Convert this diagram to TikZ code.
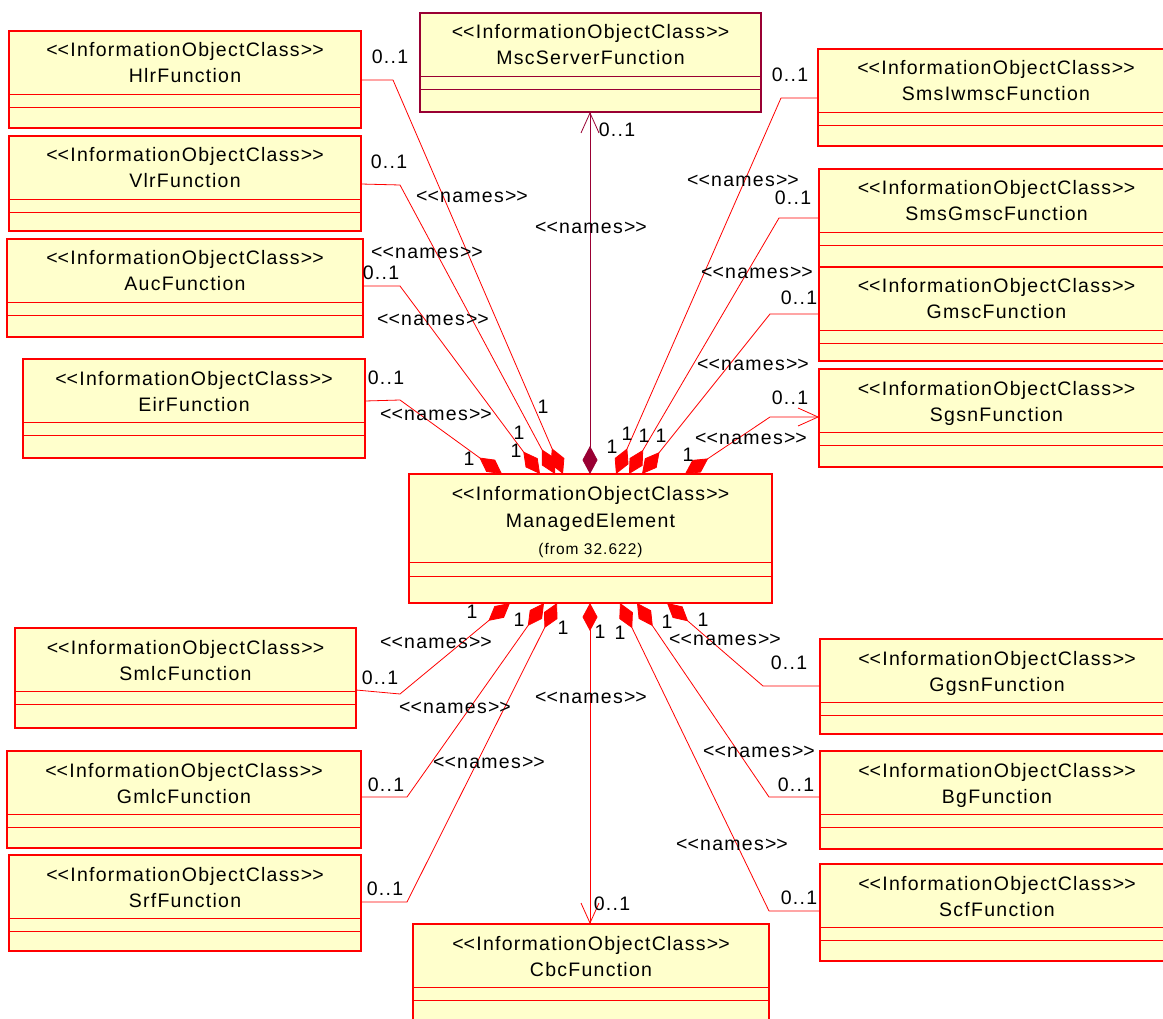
\documentclass[tikz,border=0pt]{standalone}
\usepackage{fontspec}
\newfontfamily\umlfont{Liberation Sans}[LetterSpace=6.5]
\usetikzlibrary{arrows.meta,calc}
\definecolor{boxfill}{HTML}{FFFFCC}
\definecolor{umlred}{HTML}{FF0000}
\definecolor{mscred}{HTML}{990033}
\newcommand\stLT{<\kern0pt<}
\newcommand\stGT{>\kern0pt>}
\newcommand\stereo{\stLT InformationObjectClass\stGT}
\newcommand\nameslab{\stLT names\stGT}
\tikzset{
  classbox/.style={draw=#1, fill=boxfill, line width=1.5pt, inner sep=0pt, outer sep=0pt},
  compline/.style={draw=#1, line width=0.9pt},
  txt/.style={inner sep=0pt, outer sep=0pt, text=black},
  conn/.style={draw=#1, line width=0.8pt, line join=round},
  conn/.default=umlred,
  agg/.style={{Diamond[length=28pt,width=15pt]}-},
  aggnav/.style={{Diamond[length=28pt,width=15pt]}-{Straight Barb[length=20pt,width=18pt]}},
}
\newcommand\umlclass[7][umlred]{%
  \node[classbox=#1, minimum width={(#5)-(#3)}, minimum height={(#6)-(#4)}, anchor=north west] (#2) at (#3,#4) {};
  \node[txt, anchor=base] (#2-st) at ($(#2.north)+(0,26)$) {\stereo};
  \node[txt, anchor=base] (#2-nm) at ($(#2.north)+(0,52)$) {#7};
  \draw[compline=#1] ($(#2.north west)+(0,63)$) -- ($(#2.north east)+(0,63)$);
  \draw[compline=#1] ($(#2.north west)+(0,76)$) -- ($(#2.north east)+(0,76)$);
}
\newcommand\lab[4]{\node[txt] (#1) at (#2,#3) {#4};}
\begin{document}
\begin{tikzpicture}[x=1pt,y=-1pt,font=\umlfont\fontsize{19.5}{22}\selectfont]
\useasboundingbox (0,0) rectangle (1163,1019);
\clip (0,0) rectangle (1163,1019);
\fill[white] (0,0) rectangle (1163,1019);
% classes
\umlclass{hlr}{9}{31}{361}{128}{HlrFunction}
\umlclass{vlr}{9}{136}{361}{231}{VlrFunction}
\umlclass{auc}{7}{239}{363}{337}{AucFunction}
\umlclass{eir}{23}{359}{365}{458}{EirFunction}
\umlclass[mscred]{msc}{420}{13}{761}{112}{MscServerFunction}
\umlclass{smsiw}{818}{49}{1174}{146}{SmsIwmscFunction}
\umlclass{smsg}{819}{169}{1174}{267}{SmsGmscFunction}
\umlclass{gmsc}{819}{267}{1174}{361}{GmscFunction}
\umlclass{sgsn}{819}{369}{1174}{467}{SgsnFunction}
\umlclass{smlc}{15}{628}{356}{728}{SmlcFunction}
\umlclass{gmlc}{7}{751}{361}{848}{GmlcFunction}
\umlclass{srf}{9}{855}{361}{951}{SrfFunction}
\umlclass{cbc}{413}{924}{769}{1040}{CbcFunction}
\umlclass{ggsn}{820}{639}{1174}{734}{GgsnFunction}
\umlclass{bg}{820}{751}{1174}{849}{BgFunction}
\umlclass{scf}{820}{864}{1174}{961}{ScfFunction}
% managed element
\node[classbox=umlred, minimum width=363, minimum height=129, anchor=north west] (me) at (409,474) {};
\node[txt, anchor=base] (me-st) at ($(me.north)+(0,26)$) {\stereo};
\node[txt, anchor=base] (me-nm) at ($(me.north)+(0,53)$) {ManagedElement};
\node[txt, anchor=base, font=\umlfont\fontsize{15.5}{17}\selectfont] (me-from) at ($(me.north)+(0,80)$) {(from 32.622)};
\draw[compline=umlred] ($(me.north west)+(0,88)$) -- ($(me.north east)+(0,88)$);
\draw[compline=umlred] ($(me.north west)+(0,102)$) -- ($(me.north east)+(0,102)$);
% connectors, top
\draw[conn, agg] (502,0 |- me.north) -- (400,400) -- (eir.east |- 0,401);
\draw[conn, agg] (540,0 |- me.north) -- (400,286) -- (auc.east |- 0,286);
\draw[conn, agg] (555,0 |- me.north) -- (400,185) -- (vlr.east |- 0,184);
\draw[conn, agg] (563,0 |- me.north) -- (393,80) -- (hlr.east |- 0,80);
\draw[conn=mscred, aggnav] (590,0 |- me.north) -- (590,0 |- msc.south);
\draw[conn, agg] (616,0 |- me.north) -- (781,98) -- (smsiw.west |- 0,98);
\draw[conn, agg] (629,0 |- me.north) -- (779,218) -- (smsg.west |- 0,218);
\draw[conn, agg] (642,0 |- me.north) -- (770,314) -- (gmsc.west |- 0,314);
\draw[conn, aggnav] (685,0 |- me.north) -- (770,417) -- (sgsn.west |- 0,417);
% connectors, bottom
\draw[conn, agg] (510,0 |- me.south) -- (400,694) -- (smlc.east |- 0,690);
\draw[conn, agg] (544,0 |- me.south) -- (407,797) -- (gmlc.east |- 0,797);
\draw[conn, agg] (557,0 |- me.south) -- (407,902) -- (srf.east |- 0,902);
\draw[conn, aggnav] (590,0 |- me.south) -- (590,0 |- cbc.north);
\draw[conn, agg] (620,0 |- me.south) -- (769,911) -- (scf.west |- 0,911);
\draw[conn, agg] (637,0 |- me.south) -- (769,797) -- (bg.west |- 0,797);
\draw[conn, agg] (667,0 |- me.south) -- (763,686) -- (ggsn.west |- 0,686);
% labels, top left
\lab{m1}{390}{57}{0..1}
\lab{m2}{389}{162}{0..1}
\lab{n1}{472}{197}{\nameslab}
\lab{n2}{427}{253}{\nameslab}
\lab{m3}{381}{273}{0..1}
\lab{n3}{433}{320}{\nameslab}
\lab{m4}{386}{378}{0..1}
\lab{n4}{436}{415}{\nameslab}
\lab{o1}{543}{407}{1}
\lab{o2}{519}{433}{1}
\lab{o3}{516}{451}{1}
\lab{o4}{469}{459}{1}
% msc
\lab{m5}{617}{130}{0..1}
\lab{n5}{591}{228}{\nameslab}
% top right
\lab{m6}{790}{75}{0..1}
\lab{n6}{743}{181}{\nameslab}
\lab{m7}{793}{198}{0..1}
\lab{n7}{757}{273}{\nameslab}
\lab{m8}{799}{298}{0..1}
\lab{n8}{753}{365}{\nameslab}
\lab{m9}{790}{398}{0..1}
\lab{n9}{751}{439}{\nameslab}
\lab{o5}{612}{447}{1}
\lab{o6}{627}{434}{1}
\lab{o7}{644}{436}{1}
\lab{o8}{661}{436}{1}
\lab{o9}{688}{455}{1}
% bottom
\lab{p1}{472}{612}{1}
\lab{p2}{519}{620}{1}
\lab{p3}{563}{628}{1}
\lab{p4}{600}{632}{1}
\lab{p5}{620}{633}{1}
\lab{p6}{667}{622}{1}
\lab{p7}{703}{620}{1}
\lab{n10}{436}{643}{\nameslab}
\lab{m10}{380}{678}{0..1}
\lab{n11}{455}{708}{\nameslab}
\lab{m11}{386}{785}{0..1}
\lab{n12}{489}{763}{\nameslab}
\lab{m12}{385}{889}{0..1}
\lab{n13}{591}{698}{\nameslab}
\lab{m13}{612}{904}{0..1}
\lab{n14}{725}{640}{\nameslab}
\lab{m14}{789}{663}{0..1}
\lab{n15}{759}{752}{\nameslab}
\lab{m15}{796}{785}{0..1}
\lab{n16}{732}{845}{\nameslab}
\lab{m16}{799}{898}{0..1}
\end{tikzpicture}
\end{document}
